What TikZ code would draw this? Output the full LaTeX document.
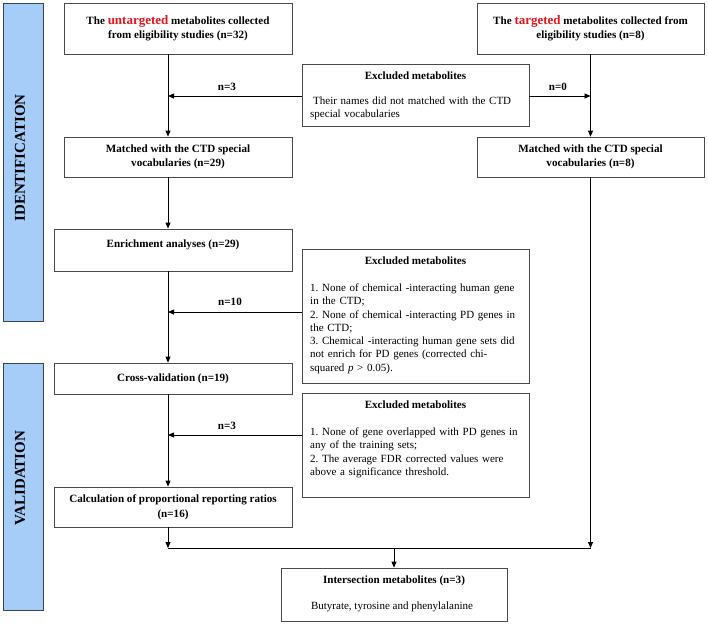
\documentclass[tikz,border=0pt]{standalone}
\usepackage{fontspec}
\setmainfont{Liberation Serif}
\usetikzlibrary{arrows.meta}
\frenchspacing
\definecolor{barfill}{HTML}{A6CCF8}
\definecolor{bardraw}{HTML}{3A4656}
\definecolor{boxdraw}{HTML}{4A4A4A}
\definecolor{redtxt}{HTML}{E8141B}
\tikzset{
 bar/.style={draw=bardraw, fill=barfill, line width=0.9pt, inner sep=0},
 bartext/.style={rotate=90, inner sep=0, font=\bfseries\fontsize{15}{15}\selectfont},
 box/.style={draw=boxdraw, line width=0.8pt, inner sep=0, align=center, font=\bfseries\fontsize{11.1}{14}\selectfont},
 lbl/.style={font=\bfseries\fontsize{11.1}{14}\selectfont, inner sep=0, align=center},
 plain/.style={font=\fontsize{11}{14}\selectfont, inner sep=0},
 body/.style={font=\fontsize{11}{13.3}\selectfont, inner sep=0, anchor=north west, text width=215pt, align=left},
 arr/.style={draw=black, line width=0.8pt, -{Triangle[length=6pt,width=5pt]}},
 ln/.style={draw=black, line width=0.8pt},
}
\newcommand{\rd}[1]{\textcolor{redtxt}{\fontsize{13}{14}\selectfont #1}}
\newcommand{\jline}[1]{\makebox[209pt][s]{#1}}
\begin{document}
\begin{tikzpicture}[x=1pt,y=-1pt]
\useasboundingbox (0,0) rectangle (708,624);
% side bars
\node[bar, minimum width=40pt, minimum height=318pt] (idbar) at (23,162) {};
\node[bartext] (idtxt) at (20,158) {IDENTIFICATION};
\node[bar, minimum width=40pt, minimum height=247pt] (valbar) at (23,486.5) {};
\node[bartext] (valtxt) at (20,478) {VALIDATION};
% main boxes
\node[box, minimum width=228pt, minimum height=51pt] (unt) at (178,28.5)
  {The \rd{untargeted} metabolites collected\\ from eligibility studies (n=32)};
\node[box, minimum width=227pt, minimum height=51pt] (tgt) at (590.5,28.5)
  {The \rd{targeted} metabolites collected from\\ eligibility studies (n=8)};
\node[box, minimum width=228pt, minimum height=40pt] (m29) at (178,157)
  {Matched with the CTD special\\ vocabularies (n=29)};
\node[box, minimum width=227pt, minimum height=40pt] (m8) at (590.5,157)
  {Matched with the CTD special\\ vocabularies (n=8)};
\node[box, minimum width=238pt, minimum height=42pt] (enr) at (173,250) {};
\node[lbl] (enrt) at (173,245) {Enrichment analyses (n=29)};
\node[box, minimum width=238pt, minimum height=31pt] (cv) at (173,378.5)
  {Cross-validation (n=19)};
\node[box, minimum width=238pt, minimum height=40pt] (calc) at (173,507)
  {Calculation of proportional reporting ratios\\[1pt] (n=16)};
% excluded boxes
\node[box, minimum width=227pt, minimum height=62pt] (ex1) at (415.5,95) {};
\node[lbl] (ex1t) at (415.5,76) {Excluded metabolites};
\node[body] (ex1b) at (310,96.5)
  {\jline{\hspace*{3pt}Their names did not matched with the CTD}\\ special vocabularies};
\node[box, minimum width=227pt, minimum height=134pt] (ex2) at (415.5,316) {};
\node[lbl] (ex2t) at (415.5,261) {Excluded metabolites};
\node[body] (ex2b) at (310,283.5)
  {\jline{1.\ None of chemical -interacting human gene}\\
   in the CTD;\\
   \jline{2.\ None of chemical -interacting PD genes in}\\
   the CTD;\\
   \jline{3.\ Chemical -interacting human gene sets did}\\
   \jline{not enrich for PD genes (corrected chi-}\\
   squared \textit{p} > 0.05).};
\node[box, minimum width=227pt, minimum height=104pt] (ex3) at (415.5,445) {};
\node[lbl] (ex3t) at (415.5,405) {Excluded metabolites};
\node[body] (ex3b) at (310,427.5)
  {1.\ None of gene overlapped with PD genes in\\
   any of the training sets;\\
   2.\ The average FDR corrected values were\\
   above a significance threshold.};
% intersection
\node[box, minimum width=226pt, minimum height=53pt] (inter) at (394,594.5) {};
\node[lbl] (intert) at (394,581) {Intersection metabolites (n=3)};
\node[plain] (interb) at (392,607) {Butyrate, tyrosine and phenylalanine};
% helper coordinates
\coordinate (lx) at (168,0);
\coordinate (jl) at (168,548);
\coordinate (jr) at (590.5,548);
\coordinate (jm) at (394,548);
% left flow
\draw[arr] (unt.south -| lx) -- (m29.north -| lx);
\draw[arr] (m29.south -| lx) -- (enr.north -| lx);
\draw[arr] (enr.south -| lx) -- (cv.north -| lx);
\draw[arr] (cv.south -| lx) -- (calc.north -| lx);
\draw[arr] (calc.south -| lx) -- (jl);
% right flow
\draw[arr] (tgt.south) -- (m8.north);
\draw[arr] (m8.south) -- (jr);
% exclusions
\draw[arr] ([yshift=-1pt]ex1.west) -- ([yshift=-1pt]ex1.west -| lx);
\node[lbl] (n3a) at (227,87) {n=3};
\draw[arr] ([yshift=-1pt]ex1.east) -- ([yshift=-1pt]ex1.east -| tgt.south);
\node[lbl] (n0) at (558,87) {n=0};
\draw[arr] ([yshift=4pt]ex2.west) -- ([yshift=4pt]ex2.west -| lx);
\node[lbl] (n10) at (230,302) {n=10};
\draw[arr] ([yshift=10pt]ex3.west) -- ([yshift=10pt]ex3.west -| lx);
\node[lbl] (n3b) at (227,426) {n=3};
% merge
\draw[ln] (jl) -- (jr);
\draw[arr] (jm) -- (inter.north);
\end{tikzpicture}
\end{document}
